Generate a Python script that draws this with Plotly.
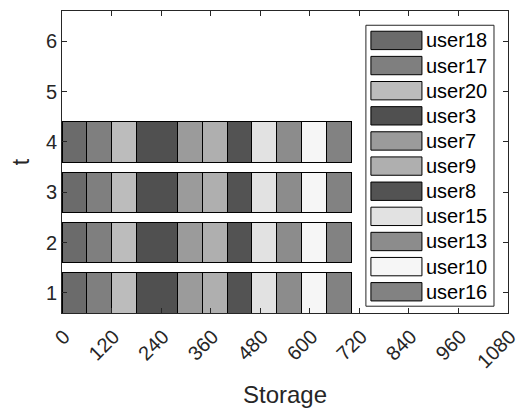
import plotly.graph_objects as go

# ---- data ----
t_values = [1, 2, 3, 4]
users = ["user18", "user17", "user20", "user3", "user7", "user9",
         "user8", "user15", "user13", "user10", "user16"]
storage = {
    "user18": [60, 60, 60, 60],
    "user17": [60, 60, 60, 60],
    "user20": [60, 60, 60, 60],
    "user3":  [100, 100, 100, 100],
    "user7":  [60, 60, 60, 60],
    "user9":  [60, 60, 60, 60],
    "user8":  [60, 60, 60, 60],
    "user15": [60, 60, 60, 60],
    "user13": [60, 60, 60, 60],
    "user10": [60, 60, 60, 60],
    "user16": [60, 60, 60, 60],
}
x_ticks = [0, 120, 240, 360, 480, 600, 720, 840, 960, 1080]
y_ticks = [1, 2, 3, 4, 5, 6]

# ---- styles ----
colors = {
    "user18": "#6b6b6b",
    "user17": "#7f7f7f",
    "user20": "#bcbcbc",
    "user3":  "#505050",
    "user7":  "#9b9b9b",
    "user9":  "#afafaf",
    "user8":  "#535353",
    "user15": "#e2e2e2",
    "user13": "#8c8c8c",
    "user10": "#f6f6f6",
    "user16": "#828282",
}
FONT = "Liberation Sans, Arial, sans-serif"
TXT = "#262626"

fig = go.Figure()
for u in users:
    fig.add_trace(go.Bar(
        y=t_values, x=storage[u], orientation="h", name=u,
        width=0.8,
        marker=dict(color=colors[u], line=dict(color="#000000", width=1)),
        showlegend=False,
    ))

OFF = 8  # default body margin of the html page
W, H = 529 - OFF, 408 - OFF
# plot area in page pixels
L, R, T, B = 62.3, 508.0, 10.7, 313.5

def px2paper_x(px):
    return (px - L) / (R - L)

def px2paper_y(py):
    return (B - py) / (B - T)

shapes = []
annotations = []
shapes.append(dict(type="rect", xref="paper", yref="paper",
                   x0=px2paper_x(366), x1=px2paper_x(494),
                   y0=px2paper_y(306.7), y1=px2paper_y(25),
                   line=dict(color="#262626", width=1), fillcolor="white",
                   layer="above"))
row0 = 40.2
step = 25.2
for i, u in enumerate(users):
    cy = row0 + i * step
    shapes.append(dict(type="rect", xref="paper", yref="paper",
                       x0=px2paper_x(371), x1=px2paper_x(422),
                       y0=px2paper_y(cy + 9.2), y1=px2paper_y(cy - 9.2),
                       line=dict(color="#000000", width=1),
                       fillcolor=colors[u], layer="above"))
    annotations.append(dict(xref="paper", yref="paper",
                            x=px2paper_x(424.5), y=px2paper_y(cy),
                            xanchor="left", yanchor="middle",
                            text=u, showarrow=False,
                            font=dict(family=FONT, size=20, color="#000000")))

fig.update_layout(
    width=W, height=H,
    margin=dict(l=L - OFF, r=(529 - R), t=T - OFF, b=(408 - B), pad=0),
    paper_bgcolor="white", plot_bgcolor="white",
    barmode="stack", bargap=0.2,
    font=dict(family=FONT, size=20, color=TXT),
    shapes=shapes, annotations=annotations,
    xaxis=dict(
        range=[0, 1080], tickvals=x_ticks, ticktext=[str(v) for v in x_ticks],
        tickangle=-45, ticks="inside", ticklen=5, tickcolor="#262626",
        ticklabelshift=2, ticklabelstandoff=3,
        showline=True, linecolor="#262626", linewidth=1, mirror="allticks",
        showgrid=False, zeroline=False,
        tickfont=dict(family=FONT, size=20, color=TXT),
        title=dict(text="Storage", font=dict(family=FONT, size=24, color=TXT),
                   standoff=14),
        automargin=False,
    ),
    yaxis=dict(
        range=[0.6, 6.6], tickvals=y_ticks, ticktext=[str(v) for v in y_ticks],
        ticks="inside", ticklen=5, tickcolor="#262626",
        showline=True, linecolor="#262626", linewidth=1, mirror="allticks",
        showgrid=False, zeroline=False,
        tickfont=dict(family=FONT, size=20, color=TXT),
        title=dict(text="t", font=dict(family=FONT, size=23, color=TXT),
                   standoff=10),
        automargin=False,
    ),
)

fig.write_html("out.html")
